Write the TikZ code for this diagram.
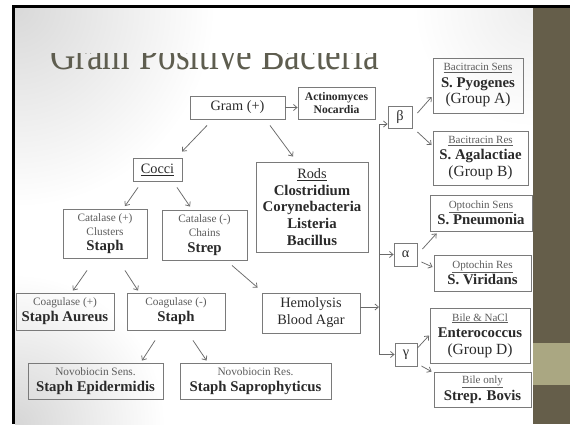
\documentclass[tikz,border=0pt]{standalone}
\usepackage{fontspec}
\setmainfont{Liberation Serif}
\usetikzlibrary{arrows.meta}

\definecolor{bandDark}{HTML}{655E4A}
\definecolor{bandLight}{HTML}{AAA782}
\definecolor{titleInk}{HTML}{5E5D4F}
\definecolor{boxEdge}{HTML}{7A7A7A}
\definecolor{ink}{HTML}{2A2A2A}
\definecolor{labelInk}{HTML}{5C5C5C}
\definecolor{arrowInk}{HTML}{6A6A6A}

% text helpers for the different kinds of lines inside the boxes
\newcommand\smalllab[1]{{\fontsize{11.3}{13}\selectfont\color{labelInk}#1}}
\newcommand\undlab[1]{{\fontsize{11}{13}\selectfont\color{labelInk}\underline{#1}}}
\newcommand\bigname[1]{{\fontsize{14.8}{16}\selectfont\bfseries #1}}
\newcommand\midname[1]{{\fontsize{11.6}{13}\selectfont\bfseries #1}}
\newcommand\plaintxt[1]{{\fontsize{14.3}{16}\selectfont #1}}
\newcommand\grouptxt[1]{{\fontsize{15.5}{17}\selectfont #1}}

\begin{document}
\begin{tikzpicture}[x=1pt,y=-1pt,
  box/.style={draw=boxEdge, line width=0.9pt, inner sep=0pt, align=center, text=ink},
  dims/.style 2 args={minimum width=#1pt, minimum height=#2pt},
  lead/.style={font=\fontsize{12}{#1}\selectfont},
  link/.style={draw=arrowInk, line width=0.75pt, -{Straight Barb[length=3.5pt,width=6pt]}},
]
\useasboundingbox (0,0) rectangle (570,424);

% slide background
\fill[white] (0,0) rectangle (570,424);
\begin{scope}
  \clip (15,7.5) rectangle (533,424);
  \shade[inner color=black!15, outer color=white] (15,7.5) circle (200);
  \shade[inner color=black!16, outer color=white] (15,424) circle (150);
  \shade[inner color=black!7, outer color=white] (533,7.5) circle (120);
\end{scope}
\fill[bandDark] (533,7.5) rectangle (570,424);
\fill[bandLight] (533,343) rectangle (570,385);
\fill[black] (12,5) rectangle (570,7.5);
\fill[black] (12,5) rectangle (15,424);

% title, only its lower part shows
\begin{scope}
  \clip (15,53) rectangle (533,100);
  \begin{scope}[shift={(50,69)}]
    \node[anchor=base west, inner sep=0pt, text=titleInk, xscale=0.8, transform shape] (title) at (0,0)
      {\fontsize{44}{44}\selectfont Gram Positive Bacteria};
  \end{scope}
\end{scope}

% boxes
\node[box, dims={95}{23}] (gram) at (237.5,107.5) {\plaintxt{Gram (+)}};
\node[box, dims={77}{32}, lead=13] (actino) at (336.5,103) {\midname{Actinomyces}\\\midname{Nocardia}};
\node[box, dims={49}{23}] (cocci) at (157.5,169.5) {\plaintxt{\underline{Cocci}}};
\node[box, dims={112}{90}, lead=16.8] (rods) at (312,207)
  {\plaintxt{\underline{Rods}}\\\bigname{Clostridium}\\\bigname{Corynebacteria}\\\bigname{Listeria}\\\bigname{Bacillus}};
\node[box, dims={84}{49}, lead=14] (catpos) at (105,233.5)
  {\smalllab{Catalase (+)}\\\smalllab{Clusters}\\[1.5pt]\bigname{Staph}};
\node[box, dims={85}{50}, lead=14] (catneg) at (204.5,235)
  {\smalllab{Catalase (-)}\\\smalllab{Chains}\\[1.5pt]\bigname{Strep}};
\node[box, dims={98}{37}, lead=16] (aureus) at (65,311.5)
  {\smalllab{Coagulase (+)}\\\bigname{Staph Aureus}};
\node[box, dims={98}{37}, lead=16] (coagneg) at (176,311.5)
  {\smalllab{Coagulase (-)}\\\bigname{Staph}};
\node[box, dims={135}{36}, lead=16] (epid) at (95.5,381)
  {\smalllab{Novobiocin Sens.}\\\bigname{Staph Epidermidis}};
\node[box, dims={151}{36}, lead=16] (sapro) at (255.5,381)
  {\smalllab{Novobiocin Res.}\\\bigname{Staph Saprophyticus}};
\node[box, dims={98}{40}, lead=17] (hemo) at (311,313)
  {\plaintxt{Hemolysis}\\\plaintxt{Blood Agar}};

\node[box, dims={24}{22}] (beta) at (400,117) {\plaintxt{β}};
\node[box, dims={23}{23}] (alpha) at (405.5,254.5) {\plaintxt{α}};
\node[box, dims={22}{23}] (gamma) at (406,354.5) {\plaintxt{γ}};

\node[box, dims={90}{55}, lead=16.5] (pyog) at (478,85.5)
  {\undlab{Bacitracin Sens}\\\bigname{S. Pyogenes}\\\grouptxt{(Group A)}};
\node[box, dims={95}{54}, lead=16.5] (agal) at (480.5,158)
  {\undlab{Bacitracin Res}\\\bigname{S. Agalactiae}\\\grouptxt{(Group B)}};
\node[box, dims={102}{36}, lead=16.5] (pneu) at (481,213)
  {\undlab{Optochin Sens}\\\bigname{S. Pneumonia}};
\node[box, dims={97}{36}, lead=16.5] (virid) at (482.5,273)
  {\undlab{Optochin Res}\\\bigname{S. Viridans}};
\node[box, dims={100}{55}, lead=16.5] (entero) at (480,335.5)
  {\undlab{Bile \& NaCl}\\\bigname{Enterococcus}\\\grouptxt{(Group D)}};
\node[box, dims={97}{35}, lead=16.5] (bovis) at (482.5,389.5)
  {\undlab{Bile only}\\\bigname{Strep. Bovis}};

% connectors of the left tree
\draw[link] (gram.east) -- (gram.east -| actino.west);
\draw[link] ([xshift=-30.5pt,yshift=-6pt]gram.south) -- ([xshift=24.5pt,yshift=6pt]cocci.north);
\draw[link] ([xshift=32.5pt,yshift=-6pt]gram.south) -- ([xshift=-19pt,yshift=5pt]rods.north);
\draw[link] ([xshift=-19.5pt,yshift=-6pt]cocci.south) -- ([xshift=20pt,yshift=2.5pt]catpos.north);
\draw[link] ([xshift=19.5pt,yshift=-6pt]cocci.south) -- ([xshift=-14.5pt,yshift=3pt]catneg.north);
\draw[link] ([xshift=-18pt,yshift=-12pt]catpos.south) -- ([xshift=8pt,yshift=2pt]aureus.north);
\draw[link] ([xshift=20pt,yshift=-12pt]catpos.south) -- ([xshift=-38pt,yshift=2pt]coagneg.north);
\draw[link] ([xshift=27.5pt,yshift=-5pt]catneg.south) -- ([xshift=-4pt,yshift=5pt]hemo.north west);
\draw[link] ([xshift=-21pt,yshift=-10pt]coagneg.south) -- ([xshift=46.5pt,yshift=2pt]epid.north);
\draw[link] ([xshift=17pt,yshift=-10pt]coagneg.south) -- ([xshift=27pt,yshift=2pt]sapro.north west);

% hemolysis spine
\coordinate (spineTop) at (379,124);
\coordinate (spineBot) at (379,354.5);
\draw[link] (spineBot) -- (spineTop) -- (spineTop -| beta.west);
\draw[link] (spineBot) -- (gamma.west);
\draw[link] (alpha.west -| spineTop) -- (alpha.west);
\draw[link] ([yshift=6pt]hemo.east) -- ([yshift=6pt]hemo.east -| spineTop);

% branches to the species
\draw[link] ([xshift=5pt,yshift=4pt]beta.east) -- ([xshift=-1pt,yshift=-11.5pt]pyog.west);
\draw[link] ([xshift=5pt,yshift=-15pt]beta.east) -- ([xshift=-1pt,yshift=13pt]agal.west);
\draw[link] ([xshift=5pt,yshift=5.5pt]alpha.east) -- ([xshift=7pt,yshift=-2pt]pneu.south west);
\draw[link] ([xshift=4pt,yshift=-7.5pt]alpha.east) -- ([xshift=-1pt,yshift=6pt]virid.west);
\draw[link] ([yshift=6.5pt]gamma.east) -- ([xshift=-0.5pt]entero.west);
\draw[link] ([xshift=4pt,yshift=-11.5pt]gamma.east) -- ([xshift=-2pt]bovis.north west);
\end{tikzpicture}
\end{document}
